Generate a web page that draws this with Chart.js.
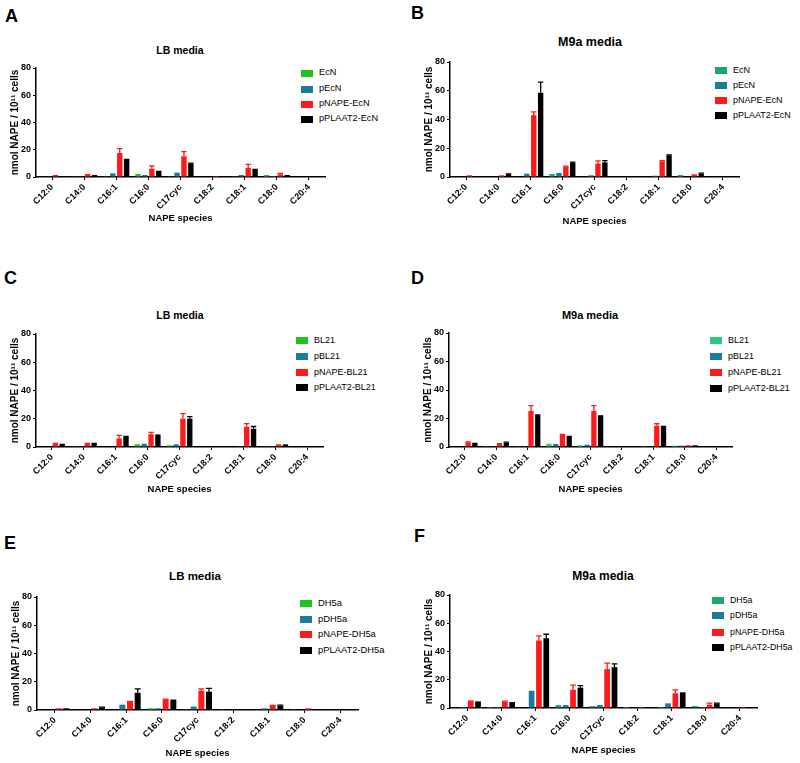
<!DOCTYPE html>
<html>
<head>
<meta charset="utf-8">
<script src="https://cdn.jsdelivr.net/npm/chart.js@4.4.0/dist/chart.umd.min.js"></script>
<style>
  body { margin: 0; background: #fff; }
  #page { position: relative; width: 800px; height: 763px; overflow: hidden; background: #fff;
          font-family: "Liberation Sans", Arial, sans-serif; color: #000; }
  #page canvas { position: absolute; }
  .t { position: absolute; white-space: nowrap; line-height: 1; }
  .letter { font-weight: bold; font-size: 18px; }
  .title { font-weight: bold; transform: translateX(-50%); }
  .box { position: absolute; width: 12px; height: 7px; }
</style>
</head>
<body>
<div id="page"></div>
<script>
const species = ['C12:0', 'C14:0', 'C16:1', 'C16:0', 'C17cyc', 'C18:2', 'C18:1', 'C18:0', 'C20:4'];

// A - EcN, LB media
const ecnLbWt = [0.3, 0.5, 0.5, 2.2, 0.5, 0, 0.5, 1.5, 0];
const ecnLbEmpty = [0.5, 0.5, 2.7, 1.5, 3.2, 0, 1.5, 0.7, 0];
const ecnLbNape = [1.5, 2.2, 17.6, 6.1, 15.2, 0.7, 6.6, 2.0, 0];
const ecnLbNapeErr = [0, 0, 3.2, 2.0, 3.4, 0, 2.7, 0.7, 0];
const ecnLbPlaat = [0.7, 1.5, 12.5, 4.6, 9.8, 0, 5.1, 1.5, 0];
const ecnLbPlaatErr = [0, 0, 0.4, 0, 0.4, 0, 0.4, 0, 0];

// B - EcN, M9a media
const ecnM9Wt = [0, 0, 0.3, 2.1, 0, 0, 0, 1.4, 0];
const ecnM9Empty = [0.3, 0, 2.3, 2.8, 1.2, 0, 0.9, 0, 0];
const ecnM9Nape = [1.2, 1.2, 43, 7.2, 9.3, 0, 10.9, 1.9, 0];
const ecnM9NapeErr = [0, 0, 2.3, 0.4, 1.9, 0, 0.5, 0, 0];
const ecnM9Plaat = [0.5, 1.9, 58.6, 9.8, 10.2, 0, 14.9, 2.3, 0];
const ecnM9PlaatErr = [0, 0.3, 7.4, 0.5, 1.2, 0, 0.4, 0.4, 0];

// C - BL21, LB media
const blLbWt = [0, 0.5, 0, 1.9, 1.2, 0, 0, 0.5, 0];
const blLbEmpty = [0, 0.5, 0, 2.3, 1.9, 0, 0.5, 0.5, 0];
const blLbNape = [2.1, 3.0, 6.1, 9.1, 20.1, 0, 14.3, 1.9, 0];
const blLbNapeErr = [0.4, 0, 2.1, 1.2, 3.5, 0, 2.3, 0, 0];
const blLbPlaat = [2.3, 3.0, 7.2, 8.9, 20.1, 0, 12.9, 1.9, 0];
const blLbPlaatErr = [0, 0, 0.3, 0, 1.4, 0, 1.6, 0, 0];

// D - BL21, M9a media
const blM9Wt = [0, 0.5, 0.5, 2.3, 1.2, 0, 0.5, 0.9, 0];
const blM9Empty = [0, 0.5, 0.5, 2.1, 1.6, 0, 0.5, 0.9, 0];
const blM9Nape = [3.3, 2.8, 25.3, 9.3, 25.3, 0, 14.9, 1.2, 0];
const blM9NapeErr = [0.3, 0, 3.7, 0, 3.7, 0, 1.4, 0, 0];
const blM9Plaat = [3.0, 3.0, 23, 7.9, 22.3, 0, 14, 1.2, 0];
const blM9PlaatErr = [0, 0.4, 0, 0, 0, 0, 0.4, 0, 0];

// E - DH5a, LB media
const dhLbWt = [0, 0, 0, 1.2, 0.5, 0.5, 0, 0.5, 0];
const dhLbEmpty = [0, 0, 3.8, 1.2, 2.4, 0, 1.2, 0, 0];
const dhLbNape = [1.2, 1.2, 6.5, 7.4, 13.7, 0, 2.9, 1.2, 0];
const dhLbNapeErr = [0, 0, 0, 0.3, 1.2, 0, 0.3, 0, 0];
const dhLbPlaat = [1.2, 1.7, 12.2, 7.4, 13.0, 0, 2.9, 0.5, 0];
const dhLbPlaatErr = [0, 0.3, 2.7, 0, 2.3, 0, 0.5, 0, 0];

// F - DH5a, M9a media
const dhM9Wt = [0, 0.7, 0, 2.1, 1.4, 0.7, 0.7, 1.4, 0];
const dhM9Empty = [0.7, 0.7, 12.2, 2.1, 2.1, 0, 3.3, 0.7, 0];
const dhM9Nape = [5.4, 4.5, 47.8, 12.9, 27.5, 0.7, 10.4, 2.4, 0.7];
const dhM9NapeErr = [0, 0.3, 3.2, 3.3, 4.3, 0, 2.5, 1.1, 0];
const dhM9Plaat = [4.7, 4.2, 49.4, 14.4, 28.9, 0.7, 11.1, 3.1, 0.7];
const dhM9PlaatErr = [0, 0, 2.8, 1.4, 2.4, 0, 0, 0.3, 0];

const family = '"Liberation Sans", Arial, sans-serif';
const blue = '#1a7b9a';
const red = '#ff1a1a';
const black = '#000000';

const panels = [
  { letter: 'A', lx: 5, ly: 7, title: 'LB media', tx: 180, ty: 50, ts: 10.5,
    axisX: 36, topY: 68, baseY: 177, xEnd: 325, xTitle: 41,
    legX: 301, legY: [73, 89, 104, 119], legSize: 9.2, green: '#1ec31e',
    names: ['EcN', 'pEcN', 'pNAPE-EcN', 'pPLAAT2-EcN'],
    values: [ecnLbWt, ecnLbEmpty, ecnLbNape, ecnLbPlaat], errors: [null, null, ecnLbNapeErr, ecnLbPlaatErr] },
  { letter: 'B', lx: 411, ly: 4, title: 'M9a media', tx: 590, ty: 42, ts: 12.5,
    axisX: 450, topY: 61.5, baseY: 177, xEnd: 739, xTitle: 44,
    legX: 715, legY: [70, 85, 100, 115], legSize: 9, green: '#20a86a',
    names: ['EcN', 'pEcN', 'pNAPE-EcN', 'pPLAAT2-EcN'],
    values: [ecnM9Wt, ecnM9Empty, ecnM9Nape, ecnM9Plaat], errors: [null, null, ecnM9NapeErr, ecnM9PlaatErr] },
  { letter: 'C', lx: 4, ly: 269, title: 'LB media', tx: 180, ty: 315, ts: 10.5,
    axisX: 36, topY: 334, baseY: 447, xEnd: 323, xTitle: 42,
    legX: 296, legY: [340, 356, 372, 387], legSize: 9, green: '#1ec31e',
    names: ['BL21', 'pBL21', 'pNAPE-BL21', 'pPLAAT2-BL21'],
    values: [blLbWt, blLbEmpty, blLbNape, blLbPlaat], errors: [null, null, blLbNapeErr, blLbPlaatErr] },
  { letter: 'D', lx: 411, ly: 269, title: 'M9a media', tx: 590, ty: 315, ts: 11,
    axisX: 449, topY: 333, baseY: 447, xEnd: 732, xTitle: 42,
    legX: 710, legY: [340, 356, 372, 388], legSize: 9, green: '#2ec97f',
    names: ['BL21', 'pBL21', 'pNAPE-BL21', 'pPLAAT2-BL21'],
    values: [blM9Wt, blM9Empty, blM9Nape, blM9Plaat], errors: [null, null, blM9NapeErr, blM9PlaatErr] },
  { letter: 'E', lx: 4, ly: 534, title: 'LB media', tx: 195, ty: 577, ts: 11.5,
    axisX: 37, topY: 597, baseY: 710, xEnd: 358, xTitle: 43,
    legX: 300, legY: [603, 619, 634, 650], legSize: 9.4, green: '#1ec31e',
    names: ['DH5a', 'pDH5a', 'pNAPE-DH5a', 'pPLAAT2-DH5a'],
    values: [dhLbWt, dhLbEmpty, dhLbNape, dhLbPlaat], errors: [null, null, dhLbNapeErr, dhLbPlaatErr] },
  { letter: 'F', lx: 414, ly: 527, title: 'M9a media', tx: 603, ty: 576, ts: 12,
    axisX: 450, topY: 595, baseY: 708, xEnd: 757, xTitle: 42,
    legX: 712, legY: [600, 615, 632, 647], legSize: 8.8, green: '#20a86a',
    names: ['DH5a', 'pDH5a', 'pNAPE-DH5a', 'pPLAAT2-DH5a'],
    values: [dhM9Wt, dhM9Empty, dhM9Nape, dhM9Plaat], errors: [null, null, dhM9NapeErr, dhM9PlaatErr] }
];

// draws the SEM whiskers on top of the bars, same colour as the bar
const errorBars = {
  id: 'errorBars',
  afterDatasetsDraw(chart) {
    const ctx = chart.ctx;
    const y = chart.scales.y;
    chart.data.datasets.forEach((ds, i) => {
      if (!ds.errors) return;
      chart.getDatasetMeta(i).data.forEach((bar, j) => {
        const e = ds.errors[j];
        if (!e) return;
        const top = y.getPixelForValue(ds.data[j] + e);
        const half = bar.width / 2;
        ctx.save();
        ctx.strokeStyle = ds.backgroundColor;
        ctx.lineWidth = 1.3;
        ctx.beginPath();
        ctx.moveTo(bar.x, bar.y);
        ctx.lineTo(bar.x, top);
        ctx.moveTo(bar.x - half, top);
        ctx.lineTo(bar.x + half, top);
        ctx.stroke();
        ctx.restore();
      });
    });
  }
};

const page = document.getElementById('page');

function addText(cls, text, x, y, size) {
  const d = document.createElement('div');
  d.className = 't ' + cls;
  d.textContent = text;
  d.style.left = x + 'px';
  d.style.top = y + 'px';
  if (size) d.style.fontSize = size + 'px';
  page.appendChild(d);
  return d;
}

function drawPanel(p) {
  addText('letter', p.letter, p.lx, p.ly);
  addText('title', p.title, p.tx, p.ty - p.ts / 2, p.ts);

  const colors = [p.green, blue, red, black];
  p.names.forEach((name, k) => {
    const b = document.createElement('div');
    b.className = 'box';
    b.style.left = p.legX + 'px';
    b.style.top = (p.legY[k] - 3.5) + 'px';
    b.style.background = colors[k];
    page.appendChild(b);
    addText('', name, p.legX + 18, p.legY[k] - p.legSize / 2, p.legSize);
  });

  const yW = 34, padTop = 10, padRight = 4, xH = p.xTitle + 6;
  const left = p.axisX - yW;
  const top = p.topY - padTop;
  const width = p.xEnd + padRight - left;
  const height = p.baseY - top + xH;

  const canvas = document.createElement('canvas');
  canvas.width = width;
  canvas.height = height;
  canvas.style.left = left + 'px';
  canvas.style.top = top + 'px';
  canvas.style.width = width + 'px';
  canvas.style.height = height + 'px';
  page.appendChild(canvas);

  new Chart(canvas.getContext('2d'), {
    type: 'bar',
    data: {
      labels: species,
      datasets: p.names.map((name, k) => ({
        label: name,
        data: p.values[k],
        errors: p.errors[k],
        backgroundColor: colors[k],
        borderWidth: 0,
        categoryPercentage: 0.86,
        barPercentage: 0.78
      }))
    },
    options: {
      responsive: false,
      animation: false,
      layout: { padding: { top: padTop, right: padRight, left: 0, bottom: 0 } },
      plugins: { legend: { display: false }, tooltip: { enabled: false } },
      scales: {
        x: {
          grid: { drawOnChartArea: false, offset: false, tickLength: 3, color: '#000', tickWidth: 1 },
          border: { color: '#000', width: 1.5 },
          ticks: { color: '#000', font: { family, size: 9, weight: 'bold' },
                   minRotation: 45, maxRotation: 45, padding: 2, autoSkip: false },
          title: { display: true, text: 'NAPE species', color: '#000',
                   font: { family, size: 9.5, weight: 'bold' }, padding: 0 },
          afterFit(s) { s.height = xH; }
        },
        y: {
          min: 0,
          max: 80,
          ticks: { stepSize: 20, color: '#000', font: { family, size: 9, weight: 'bold' }, padding: 2 },
          grid: { drawOnChartArea: false, tickLength: 3, color: '#000', tickWidth: 1 },
          border: { color: '#000', width: 1.5 },
          title: { display: true, text: 'nmol NAPE / 10¹¹ cells', color: '#000',
                   font: { family, size: 10, weight: 'bold' }, padding: { top: 7, bottom: 0 } },
          afterFit(s) { s.width = yW; }
        }
      }
    },
    plugins: [errorBars]
  });
}

panels.forEach(drawPanel);
</script>
</body>
</html>
